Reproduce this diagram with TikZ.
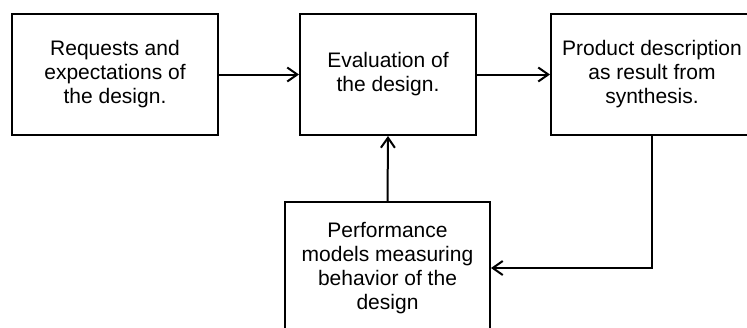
\documentclass[tikz,border=0pt]{standalone}
\usepackage{fontspec}
\setmainfont{Liberation Sans}
\usetikzlibrary{arrows.meta}
\begin{document}
\begin{tikzpicture}[x=1pt,y=-1pt,
  box/.style={draw=black, line width=2pt, fill=white, inner sep=0pt, align=center,
    font=\fontsize{21}{24}\selectfont},
  flow/.style={line width=2pt, -{Straight Barb[length=10pt,width=14pt,line width=2pt]}}]
  \clip (0,0) rectangle (747,327);
  \fill[white] (0,0) rectangle (747,327);
  \node[box, minimum width=206pt, minimum height=121pt] (req) at (115,74.5)
    {Requests and\\expectations of\\the design.};
  \node[box, minimum width=176pt, minimum height=121pt] (eval) at (388,74.5)
    {Evaluation of\\the design.};
  \node[box, minimum width=202pt, minimum height=121pt] (prod) at (652,74.5)
    {Product description\\as result from\\synthesis.};
  \node[box, minimum width=205pt, minimum height=132pt] (perf) at (387.5,268)
    {Performance\\models measuring\\behavior of the\\design};
  \draw[flow] (req.east) -- (eval.west);
  \draw[flow] (eval.east) -- (prod.west);
  \draw[flow] (perf.north) -- (eval.south);
  \draw[flow] (prod.south) |- (perf.east);
\end{tikzpicture}
\end{document}
